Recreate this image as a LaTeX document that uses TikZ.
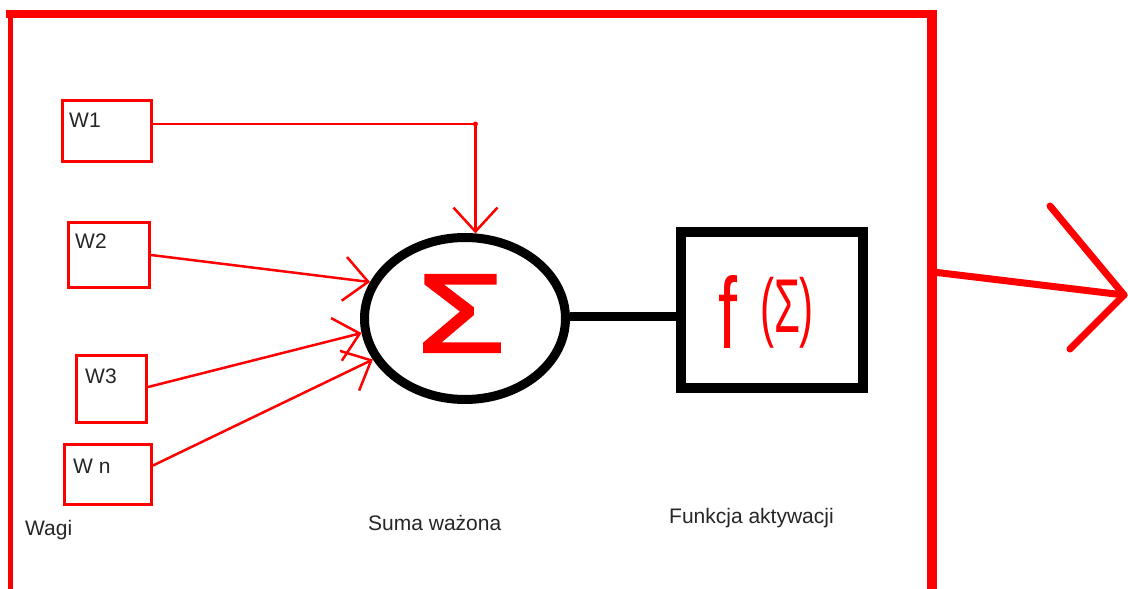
\documentclass[tikz,border=0pt]{standalone}
\usepackage{fontspec}
\setmainfont{Liberation Sans}
\newfontfamily\sigfont[FakeBold=2]{Liberation Sans}
\usepackage{graphicx}
\usetikzlibrary{arrows.meta,shapes.geometric}
\tikzset{
  frameline/.style={draw=red},
  wbox/.style={draw=red, line width=3pt, rectangle, inner sep=0pt},
  conn/.style={draw=red, line width=2.5pt, -{Straight Barb[length=24pt,width=44pt]}},
  dotnode/.style={circle, fill=red, inner sep=0pt, minimum size=5pt},
  lbl/.style={inner sep=0pt, anchor=base west, text=black!85, font=\fontsize{21}{24}\selectfont},
  outarrow/.style={draw=red, line width=7pt, line cap=round, line join=round},
}
\begin{document}
\begin{tikzpicture}[x=1pt,y=-1pt]
\useasboundingbox (0,0) rectangle (1128,589);
\fill[white] (0,0) rectangle (1128,589);
\clip (0,0) rectangle (1128,589);

% frame
\draw[frameline, line width=5pt] (10,10) -- (10,600);
\draw[frameline, line width=8pt] (6,14) -- (937,14);
\draw[frameline, line width=10pt] (932,10) -- (932,600);

% weight boxes
\node[wbox, minimum width=89pt, minimum height=61pt] (w1) at (107,131) {};
\node[wbox, minimum width=81pt, minimum height=65pt] (w2) at (109,255) {};
\node[wbox, minimum width=70pt, minimum height=67pt] (w3) at (111.5,389) {};
\node[wbox, minimum width=87pt, minimum height=60pt] (wn) at (108,474.5) {};

\node[lbl] (t1) at (69,127) {W1};
\node[lbl] (t2) at (75,248) {W2};
\node[lbl] (t3) at (85,383) {W3};
\node[lbl] (tn) at (73,473) {W n};
\node[lbl] (wagi) at (25,535) {Wagi};

% summation
\node[draw=black, ellipse, line width=9pt, minimum width=201pt, minimum height=162pt, inner sep=0pt] (sum) at (465,318.5) {};
\node[text=red, inner sep=0pt] (sig) at (461,313.5) {\resizebox*{88pt}{77pt}{\sigfont Σ}};

% activation box
\node[draw=black, rectangle, line width=9.5pt, minimum width=182pt, minimum height=156pt, inner sep=0pt] (fbox) at (772,310) {};
\node[text=red, inner sep=0pt] (ff) at (728,311.5) {\resizebox*{19pt}{73pt}{f}};
\node[text=red, inner sep=0pt] (fsig) at (787,312.5) {\resizebox*{54pt}{71pt}{(Σ)}};

\draw[line width=9pt, black] (sum.1) -- (sum.1 -| fbox.west);

% connectors
\draw[conn] ([yshift=7pt]w1.east) -| node[dotnode, pos=0.5] (w1dot) {} (sum.83);
\draw[conn] (w2.east) -- (sum.159);
\draw[conn] ([yshift=2pt]w3.east) -- (sum.188);
\draw[conn] ([yshift=9pt]wn.east) -- (sum.204);

\node[lbl] (suma) at (368,530) {Suma ważona};
\node[lbl] (funk) at (669,523) {Funkcja aktywacji};

% output arrow
\coordinate (ostart) at (933,272);
\coordinate (otip) at (1124,295);
\coordinate (oa1) at (1050,206);
\coordinate (oa2) at (1070,349);
\draw[outarrow] (ostart) -- (otip);
\draw[outarrow] (oa1) -- (otip) -- (oa2);
\end{tikzpicture}
\end{document}
